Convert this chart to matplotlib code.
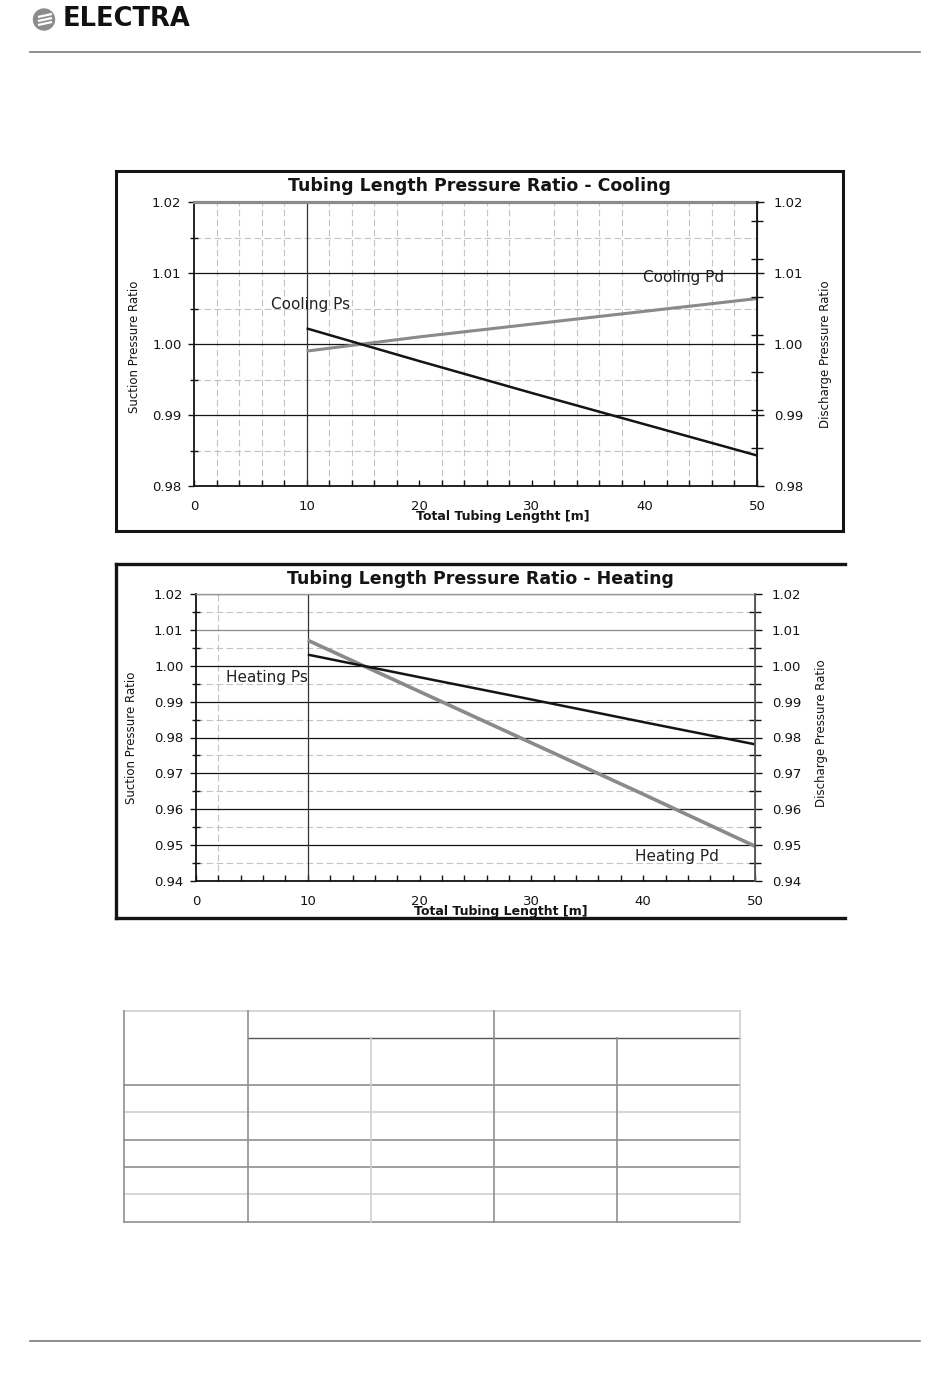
import matplotlib
matplotlib.use('Agg')
import matplotlib.pyplot as plt
from matplotlib.ticker import MultipleLocator, FixedLocator
from matplotlib.lines import Line2D
from matplotlib.patches import Rectangle, Circle

# ---------------- data ----------------
tubing_length = [10, 20, 30, 40, 50]
cooling_ps = [1.0022, 0.9976, 0.9931, 0.9887, 0.9843]
cooling_pd = [0.9990, 1.0010, 1.0028, 1.0046, 1.0064]
heating_ps = [1.0031, 0.9968, 0.9906, 0.9843, 0.9781]
heating_pd = [1.0071, 0.9928, 0.9785, 0.9642, 0.9497]

x_ticks = [0, 10, 20, 30, 40, 50]
cool_y_ticks = [0.98, 0.99, 1.00, 1.01, 1.02]
heat_y_ticks = [0.94, 0.95, 0.96, 0.97, 0.98, 0.99, 1.00, 1.01, 1.02]

cool_title = 'Tubing Length Pressure Ratio - Cooling'
heat_title = 'Tubing Length Pressure Ratio - Heating'
x_label = 'Total Tubing Lengtht [m]'
y_left_label = 'Suction Pressure Ratio'
y_right_label = 'Discharge Pressure Ratio'

# ---------------- layout helpers ----------------
W, H = 950, 1379
fig = plt.figure(figsize=(W / 100, H / 100), dpi=100)
fig.patch.set_facecolor('white')


def fx(px):
    return px / W


def fy(py):
    return 1 - py / H


def rect(l, t, r, b):
    return [fx(l), fy(b), (r - l) / W, (b - t) / H]


def fig_line(x0, y0, x1, y1, color='black', lw=1.0):
    fig.add_artist(Line2D([fx(x0), fx(x1)], [fy(y0), fy(y1)],
                          transform=fig.transFigure, color=color, lw=lw))


BLACK = '#141414'
GRAY_LINE = '#8a8a8a'
GRID_DASH = '#c4c4c4'
DASH = (0, (6, 3))
TICK_FS = 9.5
LABEL_FS = 8.5
SERIES_FS = 11
TITLE_FS = 12.5
XLABEL_FS = 9


def setup_axes(ax, yticks, ylo, yhi, minor_x_grid, right_minor):
    ax.set_xlim(0, 50)
    ax.set_ylim(ylo, yhi)
    ax.set_axisbelow(True)
    ax.set_xticks(x_ticks)
    ax.set_xticklabels([str(v) for v in x_ticks])
    ax.xaxis.set_minor_locator(MultipleLocator(2))
    ax.set_yticks(yticks)
    ax.set_yticklabels(['%.2f' % v for v in yticks])
    ax.yaxis.set_minor_locator(MultipleLocator(0.005))
    ax.tick_params(axis='x', which='major', direction='in', length=4,
                   width=1, pad=10, labelsize=TICK_FS, colors=BLACK)
    ax.tick_params(axis='x', which='minor', direction='in', length=4,
                   width=1, colors=BLACK)
    ax.tick_params(axis='y', which='major', direction='out', length=4,
                   width=1, pad=5, labelsize=TICK_FS, colors=BLACK)
    ax.tick_params(axis='y', which='minor', direction='inout', length=6,
                   width=1, colors=BLACK)
    ax.grid(which='major', axis='y', color=BLACK, lw=0.9, ls='-')
    ax.grid(which='minor', axis='y', color=GRID_DASH, lw=0.8, ls=DASH)
    if minor_x_grid:
        ax.grid(which='minor', axis='x', color=GRID_DASH, lw=0.8, ls=DASH)
    ax.axvline(10, color='#333333', lw=0.9, zorder=1)
    for s in ['left', 'bottom']:
        ax.spines[s].set_color(BLACK)
        ax.spines[s].set_linewidth(1.3)

    axr = ax.twinx()
    axr.set_ylim(ylo, yhi)
    axr.set_yticks(yticks)
    axr.set_yticklabels(['%.2f' % v for v in yticks])
    if right_minor is not None:
        axr.yaxis.set_minor_locator(FixedLocator(right_minor))
    else:
        axr.yaxis.set_minor_locator(MultipleLocator(0.005))
    axr.tick_params(axis='y', which='major', direction='out', length=5,
                    width=1, pad=7, labelsize=TICK_FS, colors=BLACK)
    axr.tick_params(axis='y', which='minor', direction='inout', length=8,
                    width=1, colors=BLACK)
    for s in ['left', 'bottom', 'top']:
        axr.spines[s].set_visible(False)
    return axr


# ---------------- page decoration ----------------
logo_ax = fig.add_axes(rect(30, 5, 60, 35))
logo_ax.set_xlim(0, 30)
logo_ax.set_ylim(30, 0)
logo_ax.set_aspect('equal')
logo_ax.axis('off')
logo_ax.add_patch(Circle((14, 14.5), 10.5, color='#8c8c8c'))
for yy in (10.5, 14.5, 18.5):
    logo_ax.plot([8, 22], [yy + 1.5, yy - 1.5], color='white', lw=1.6,
                 solid_capstyle='butt')
fig.text(fx(63), fy(19.5), 'ELECTRA', fontsize=18.5, fontweight='black',
         ha='left', va='center', color='#111111')

fig_line(30, 52, 920, 52, color='#7a7a7a', lw=1.2)
fig_line(30, 1341, 920, 1341, color='#7a7a7a', lw=1.2)

# ---------------- cooling chart ----------------
fig.add_artist(Rectangle((fx(116), fy(531)), (843 - 116) / W, (531 - 171) / H,
                         fill=False, ec=BLACK, lw=2.2,
                         transform=fig.transFigure))
ax1 = fig.add_axes(rect(194, 202, 757, 486))
right_minor_cool = [0.98533, 0.99067, 0.996, 1.00133, 1.00667, 1.012, 1.01733]
ax1r = setup_axes(ax1, cool_y_ticks, 0.98, 1.02, True, right_minor_cool)
ax1.spines['top'].set_color('#8c8c8c')
ax1.spines['top'].set_linewidth(2.3)
ax1.spines['right'].set_color(BLACK)
ax1r.spines['right'].set_color(BLACK)
ax1r.spines['right'].set_linewidth(1.3)

ax1.plot(tubing_length, cooling_pd, color=GRAY_LINE, lw=2.2, zorder=3,
         solid_capstyle='butt')
ax1.plot(tubing_length, cooling_ps, color=BLACK, lw=1.8, zorder=4,
         solid_capstyle='butt')
ax1.text(6.8, 1.0055, 'Cooling Ps', fontsize=SERIES_FS, color='#222222',
         ha='left', va='center')
ax1.text(39.9, 1.0093, 'Cooling Pd', fontsize=SERIES_FS, color='#222222',
         ha='left', va='center')
ax1.text(0.548, -0.109, x_label, transform=ax1.transAxes, fontsize=XLABEL_FS,
         fontweight='bold', ha='center', va='center', color=BLACK)
fig.text(fx(479.5), fy(186), cool_title, fontsize=TITLE_FS, fontweight='bold',
         ha='center', va='center', color=BLACK)
fig.text(fx(135), fy(347), y_left_label, rotation=90, fontsize=LABEL_FS,
         ha='center', va='center', color=BLACK)
fig.text(fx(825), fy(354), y_right_label, rotation=90, fontsize=LABEL_FS,
         ha='center', va='center', color=BLACK)

# ---------------- heating chart ----------------
fig_line(116, 564, 845, 564, color=BLACK, lw=2.4)
fig_line(116, 564, 116, 918, color=BLACK, lw=2.4)
fig_line(116, 918, 845, 918, color=BLACK, lw=2.4)

ax2 = fig.add_axes(rect(196, 594, 755, 881))
ax2r = setup_axes(ax2, heat_y_ticks, 0.94, 1.02, False, None)
ax2.axvline(2, color=GRID_DASH, lw=0.8, ls=DASH, zorder=0.5)
for gl, v in zip(ax2.get_ygridlines(), heat_y_ticks):
    if abs(v - 1.01) < 1e-9:
        gl.set_color('#8a8a8a')
ax2.spines['top'].set_color('#9a9a9a')
ax2.spines['top'].set_linewidth(1.0)
ax2.spines['right'].set_color('#555555')
ax2r.spines['right'].set_color('#555555')
ax2r.spines['right'].set_linewidth(1.3)

ax2.plot(tubing_length, heating_ps, color=BLACK, lw=1.8, zorder=4,
         solid_capstyle='butt')
ax2.plot(tubing_length, heating_pd, color=GRAY_LINE, lw=2.6, zorder=3,
         solid_capstyle='butt')
ax2.text(2.7, 0.9966, 'Heating Ps', fontsize=SERIES_FS, color='#222222',
         ha='left', va='center')
ax2.text(39.3, 0.9467, 'Heating Pd', fontsize=SERIES_FS, color='#222222',
         ha='left', va='center')
ax2.text(0.5456, -0.108, x_label, transform=ax2.transAxes, fontsize=XLABEL_FS,
         fontweight='bold', ha='center', va='center', color=BLACK)
fig.text(fx(480), fy(579), heat_title, fontsize=TITLE_FS, fontweight='bold',
         ha='center', va='center', color=BLACK)
fig.text(fx(131.5), fy(738), y_left_label, rotation=90, fontsize=LABEL_FS,
         ha='center', va='center', color=BLACK)
fig.text(fx(822), fy(733), y_right_label, rotation=90, fontsize=LABEL_FS,
         ha='center', va='center', color=BLACK)

# ---------------- empty table ----------------
col_x = [124, 248, 371, 494, 617, 740]
row_y = [1011, 1038, 1085, 1112, 1140, 1167, 1194, 1222]
DARK, MID, LIGHT = '#555555', '#8f8f8f', '#cfcfcf'
fig_line(col_x[0], row_y[0], col_x[-1], row_y[0], color=LIGHT, lw=1.2)
fig_line(col_x[1], row_y[1], col_x[-1], row_y[1], color=DARK, lw=1.0)
row_colors = [MID, LIGHT, MID, MID, LIGHT, MID]
for yv, c in zip(row_y[2:], row_colors):
    fig_line(col_x[0], yv, col_x[-1], yv, color=c, lw=1.2)
fig_line(col_x[0], row_y[0], col_x[0], row_y[-1], color=MID, lw=1.2)
fig_line(col_x[1], row_y[0], col_x[1], row_y[-1], color=MID, lw=1.2)
fig_line(col_x[2], row_y[1], col_x[2], row_y[-1], color=LIGHT, lw=1.2)
fig_line(col_x[3], row_y[0], col_x[3], row_y[-1], color=MID, lw=1.2)
fig_line(col_x[4], row_y[1], col_x[4], row_y[-1], color=MID, lw=1.2)
fig_line(col_x[5], row_y[0], col_x[5], row_y[-1], color=LIGHT, lw=1.2)

fig.savefig('out.png', dpi=100, facecolor='white')
